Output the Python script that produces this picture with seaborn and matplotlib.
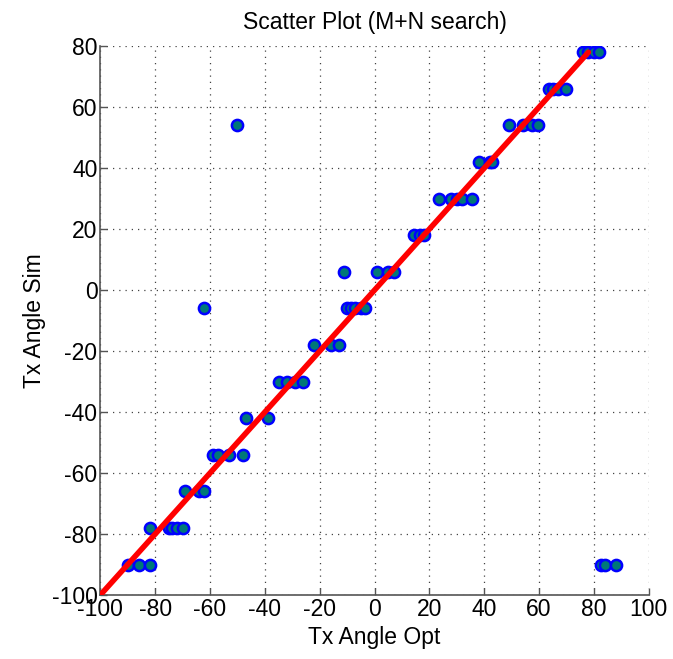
import pandas as pd
import numpy as np
import matplotlib
matplotlib.use("Agg")
import matplotlib.pyplot as plt
import seaborn as sns

# --------------------------
# DATA
# --------------------------
opt_angles = [-90, -86, -82, 82.4, 84.2, 88,
              -82, -75, -74, -72, -70,
              -69, -64, -62,
              -59, -57, -53, -48,
              -47, -39,
              -35, -32, -29, -26,
              -22, -16, -13,
              -62, -10, -8.5, -7, -5, -3.5,
              -11, 1, 5, 7,
              14.5, 16.5, 18,
              23.5, 28, 30, 32, 35.5,
              38, 42, 43,
              -50, 49, 54, 57.5, 59.5,
              63.5, 65, 67, 70,
              76, 78, 80, 82]
sim_angles = [-90] * 6 + [-78] * 5 + [-66] * 3 + [-54] * 4 + [-42] * 2 + \
             [-30] * 4 + [-18] * 3 + [-6] * 6 + [6] * 4 + [18] * 3 + \
             [30] * 5 + [42] * 3 + [54] * 5 + [66] * 4 + [78] * 4

line_x = [-100, 78]
line_y = [-100, 78]

x_ticks = list(range(-100, 101, 20))
y_ticks = list(range(-100, 81, 20))

df = pd.DataFrame({"opt": opt_angles, "sim": sim_angles})
df_line = pd.DataFrame({"x": line_x, "y": line_y})

# --------------------------
# PLOT
# --------------------------
sns.set_style("white")
plt.rcParams['font.family'] = ['Liberation Sans', 'DejaVu Sans']
plt.rcParams['axes.unicode_minus'] = False
plt.rcParams['text.color'] = 'black'
plt.rcParams['axes.labelcolor'] = 'black'

fig = plt.figure(figsize=(6.73, 6.59), dpi=100)
ax = fig.add_axes([0.149, 0.097, 0.815, 0.833])

sns.scatterplot(data=df, x="opt", y="sim", ax=ax, s=65, color="#007878",
                edgecolor="#0000ff", linewidth=1.8, zorder=3)
sns.lineplot(data=df_line, x="x", y="y", ax=ax, color="red", linewidth=4,
             zorder=4)

ax.set_xlim(-100, 100)
ax.set_ylim(-100, 80)
ax.set_xticks(x_ticks)
ax.set_yticks(y_ticks)
ax.grid(True, linestyle=(0, (1, 4)), color="#444444", linewidth=0.9)
ax.set_axisbelow(True)

for side in ["top", "right"]:
    ax.spines[side].set_visible(False)
for side in ["left", "bottom"]:
    ax.spines[side].set_color("#555555")
    ax.spines[side].set_linewidth(1.2)

ax.tick_params(direction="in", length=5, width=1, colors="#555555",
               labelcolor="black", labelsize=16.5, left=True, bottom=True,
               pad=2)

ax.set_title("Scatter Plot (M+N search)", fontsize=16.5, pad=12, color="black")
ax.set_xlabel("Tx Angle Opt", fontsize=16.5, labelpad=4, color="black")
ax.set_ylabel("Tx Angle Sim", fontsize=16.5, labelpad=4, color="black")

fig.savefig("out.png", dpi=100)
